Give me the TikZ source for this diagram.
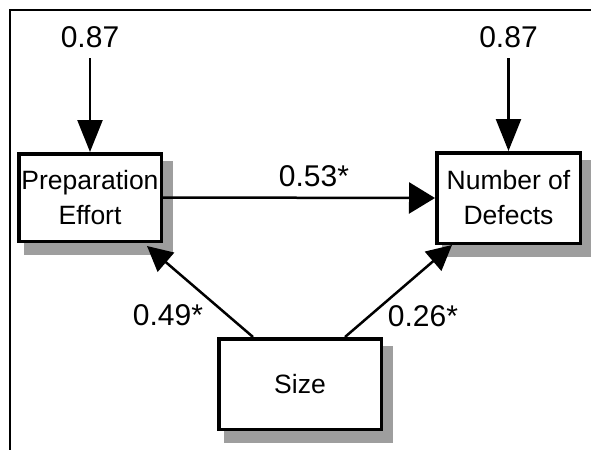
\documentclass[tikz,border=0pt]{standalone}
\usepackage{fontspec}
\setmainfont{Liberation Sans}
\usetikzlibrary{arrows.meta,backgrounds}
\begin{document}
\begin{tikzpicture}[x=1pt,y=-1pt,
  box/.style={draw, line width=3.5pt, fill=white, align=center,
    font=\fontsize{26.5}{35}\selectfont, inner sep=0pt},
  lbl/.style={font=\fontsize{30}{36}\selectfont, inner sep=0pt},
  conn/.style={line width=2.5pt},
  shade/.style={fill=black!38, draw=black!38, line width=3pt},
  bigtip/.style={-{Triangle[length=32pt,width=25pt]}},
  midtip/.style={-{Triangle[length=26pt,width=31pt]}},
  smalltip/.style={-{Triangle[length=25pt,width=25pt]}}
]
\useasboundingbox (0,0) rectangle (591,450);
\draw[line width=2pt] (591,10) -- (10,10) -- (10,450);

\node[box, minimum width=142.5pt, minimum height=87.5pt] (prep) at (90,197.5) {Preparation\\Effort};
\node[box, minimum width=143.5pt, minimum height=90.5pt] (def) at (508.5,198) {Number of\\Defects};
\node[box, minimum width=162.5pt, minimum height=90.5pt] (size) at (300,384) {Size};

\begin{pgfonlayer}{background}
  \foreach \n in {prep,def,size}
    \filldraw[shade] ([shift={(8.5,10)}]\n.north west) rectangle ([shift={(8.5,10)}]\n.south east);
\end{pgfonlayer}

\node[lbl] (e1) at (90,37.5) {0.87};
\node[lbl] (e2) at (508.5,37.5) {0.87};
\node[lbl] (l1) at (314,176) {0.53*};
\node[lbl] (l2) at (168,315) {0.49*};
\node[lbl] (l3) at (423,316) {0.26*};

\draw[conn, bigtip] ([yshift=-10pt]e1.south) -- (prep.north);
\draw[conn, bigtip] ([yshift=-10pt]e2.south) -- (def.north);
\draw[conn, midtip] (prep.east) -- (def.west);
\draw[conn, smalltip] ([xshift=36pt]size.north west) -- ([xshift=-16pt,yshift=-3pt]prep.south east);
\draw[conn, smalltip] ([xshift=-38pt]size.north east) -- ([xshift=17pt]def.south west);
\end{tikzpicture}
\end{document}
